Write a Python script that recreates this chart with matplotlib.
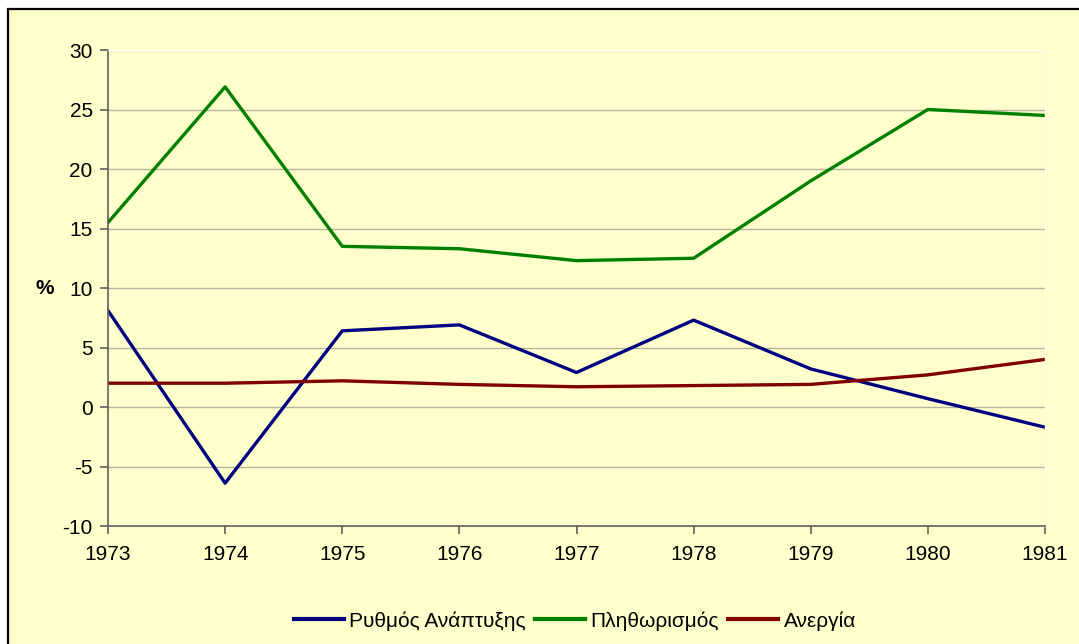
import matplotlib
matplotlib.use("Agg")
import matplotlib.pyplot as plt
from matplotlib.patches import Rectangle

years = [1973, 1974, 1975, 1976, 1977, 1978, 1979, 1980, 1981]
growth = [8.1, -6.4, 6.4, 6.9, 2.9, 7.3, 3.2, 0.7, -1.7]
inflation = [15.5, 26.9, 13.5, 13.3, 12.3, 12.5, 19.0, 25.0, 24.5]
unemployment = [2.0, 2.0, 2.2, 1.9, 1.7, 1.8, 1.9, 2.7, 4.0]
series_names = ["Ρυθμός Ανάπτυξης", "Πληθωρισμός", "Ανεργία"]
yticks = [-10, -5, 0, 5, 10, 15, 20, 25, 30]

plt.rcParams['font.family'] = ['Liberation Sans', 'DejaVu Sans']
plt.rcParams['axes.unicode_minus'] = False

W, H = 1079, 644
fig = plt.figure(figsize=(W / 100, H / 100), dpi=100)
fig.patch.set_facecolor('white')
bg = '#FFFFCC'
fig.patches.append(Rectangle((8 / W, -0.01), 1.02, 1 - 9 / H + 0.01,
                             transform=fig.transFigure, facecolor=bg,
                             edgecolor='black', linewidth=1.6, zorder=-10))

ax = fig.add_axes([108 / W, 1 - 526 / H, (1045 - 108) / W, (526 - 50) / H])
ax.set_zorder(1)
ax.set_facecolor(bg)

ax.plot(years, growth, color='#000080', lw=2.4, label=series_names[0])
ax.plot(years, inflation, color='#008000', lw=2.4, label=series_names[1])
ax.plot(years, unemployment, color='#800000', lw=2.4, label=series_names[2])

ax.set_xlim(1973, 1981)
ax.set_ylim(-10, 30)
ax.set_yticks(yticks)
ax.set_xticks(years)
ax.grid(axis='y', color='#B4B4A0', lw=1.0)
ax.set_axisbelow(True)
for s in ['top', 'right']:
    ax.spines[s].set_color('#FFFFF0')
    ax.spines[s].set_linewidth(1.0)
for s in ['left', 'bottom']:
    ax.spines[s].set_color('#606060')
    ax.spines[s].set_linewidth(1.2)
ax.tick_params(axis='both', direction='out', length=6, width=1.2,
               color='#606060', labelsize=15, labelcolor='black')
ax.tick_params(axis='x', pad=8)
ax.tick_params(axis='y', pad=5)

fig.text(45 / W, 1 - 288 / H, '%', fontsize=15, fontweight='bold',
         ha='center', va='center')

leg = fig.legend(loc='center', bbox_to_anchor=(575 / W, 1 - 621 / H), ncol=3,
                 frameon=False, fontsize=15, handlelength=2.4,
                 handletextpad=0.25, columnspacing=0.45)
for line in leg.get_lines():
    line.set_linewidth(3.0)
leg.set_zorder(2)

fig.savefig('out.png', dpi=100, facecolor=fig.get_facecolor())
